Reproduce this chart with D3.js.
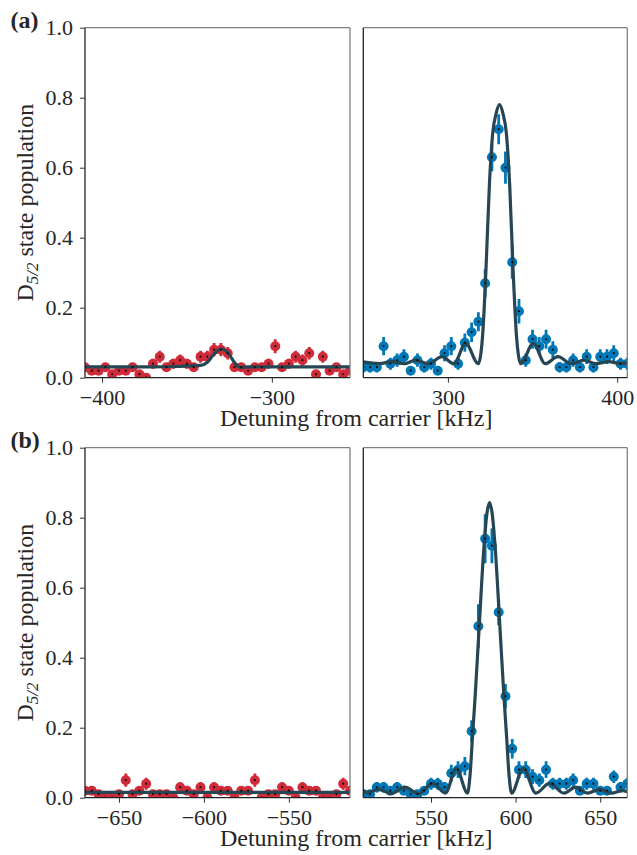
<!DOCTYPE html>
<html>
<head>
<meta charset="utf-8">
<script src="https://cdn.jsdelivr.net/npm/d3@7"></script>
<style>
  body { margin: 0; background: #fff; }
  text { font-family: "Liberation Serif", "Times New Roman", serif; fill: #262626; }
</style>
</head>
<body>
<script>
// ---- data ----
var aLeftX = [-410,-406,-402,-398,-394,-390,-386,-382,-378,-374,-370,-366,-362,-358,-354,-350,-346,-342,-338,-334,
              -330,-326,-322,-318,-314,-310,-306,-302,-298,-294,-290,-286,-282,-278,-274,-270,-266,-262,-258,-254];
var aLeftY = [0.03,0.02,0.02,0.03,0.01,0.02,0.02,0.03,0.01,0.00,0.04,0.06,0.03,0.04,0.05,0.04,0.03,0.06,0.06,0.08,
              0.08,0.07,0.03,0.03,0.02,0.03,0.03,0.04,0.09,0.03,0.04,0.06,0.05,0.07,0.01,0.06,0.02,0.03,0.01,0.02];
var aLeftErr = [0.012,0.010,0.010,0.012,0.007,0.010,0.010,0.012,0.007,0,0.014,0.017,0.012,0.014,0.016,0.014,0.012,0.017,0.017,0.019,
                0.019,0.018,0.012,0.012,0.010,0.012,0.012,0.014,0.020,0.012,0.014,0.017,0.016,0.018,0.007,0.017,0.010,0.012,0.007,0.010];

var aRightX = [250,254,258,262,266,270,274,278,282,286,290,294,298,302,306,310,314,318,322,326,
               330,334,338,342,346,350,354,358,362,366,370,374,378,382,386,390,394,398,402,406];
var aRightY = [0.03,0.03,0.03,0.09,0.04,0.05,0.06,0.02,0.05,0.03,0.04,0.02,0.07,0.09,0.04,0.10,0.13,0.16,0.27,0.63,
               0.71,0.60,0.33,0.19,0.05,0.11,0.09,0.11,0.08,0.03,0.03,0.05,0.03,0.06,0.03,0.06,0.06,0.07,0.04,0.04];
var aRightErr = [0.015,0.015,0.015,0.026,0.017,0.019,0.021,0.012,0.019,0.015,0.017,0.012,0.023,0.026,0.017,0.026,0.028,0.027,0.040,0.040,
                 0.043,0.046,0.047,0.035,0.019,0.027,0.026,0.027,0.024,0.015,0.015,0.019,0.015,0.021,0.015,0.021,0.021,0.023,0.017,0.017];

var bLeftX = [-670,-666,-662,-658,-654,-650,-646,-642,-638,-634,-630,-626,-622,-618,-614,-610,-606,-602,-598,-594,
              -590,-586,-582,-578,-574,-570,-566,-562,-558,-554,-550,-546,-542,-538,-534,-530,-526,-522,-518,-514];
var bLeftY = [0.02,0.02,0.01,0.00,0.00,0.01,0.05,0.01,0.02,0.04,0.01,0.01,0.01,0.00,0.03,0.02,0.01,0.03,0.00,0.03,
              0.02,0.02,0.00,0.02,0.02,0.05,0.00,0.01,0.01,0.03,0.02,0.00,0.03,0.02,0.02,0.00,0.00,0.01,0.04,0.02];
var bLeftErr = [0.012,0.012,0.008,0,0,0.008,0.019,0.008,0.012,0.017,0.008,0.008,0.008,0,0.014,0.012,0.008,0.014,0,0.014,
                0.012,0.012,0,0.012,0.012,0.019,0,0.008,0.008,0.014,0.012,0,0.014,0.012,0.012,0,0,0.008,0.017,0.012];

var bRightX = [510,514,518,522,526,530,534,538,542,546,550,554,558,562,566,570,574,578,582,586,
               590,594,598,602,606,610,614,618,622,626,630,634,638,642,646,650,654,658,662,666];
var bRightY = [0.01,0.01,0.03,0.03,0.02,0.03,0.02,0.01,0.01,0.02,0.04,0.04,0.03,0.07,0.08,0.09,0.19,0.49,0.74,0.72,
               0.53,0.29,0.14,0.08,0.08,0.06,0.05,0.08,0.04,0.04,0.04,0.05,0.02,0.04,0.04,0.02,0.02,0.06,0.03,0.04];
var bRightErr = [0.010,0.010,0.015,0.015,0.012,0.015,0.012,0.010,0.010,0.012,0.017,0.017,0.015,0.024,0.024,0.026,0.031,0.063,0.070,0.050,
                 0.037,0.035,0.028,0.024,0.024,0.021,0.019,0.024,0.017,0.017,0.017,0.019,0.012,0.017,0.017,0.012,0.012,0.018,0.015,0.017];

// fitted lineshapes, sampled at their turning points off the picture
var aLeftFitX = [-410,-370,-356,-348,-342,-338,-335,-332,-329.5,-327,-324,-321,-318,-314,-300,-254];
var aLeftFitY = [0.031,0.031,0.032,0.034,0.035,0.044,0.062,0.077,0.082,0.077,0.058,0.037,0.029,0.031,0.031,0.031];

var aRightFitX = [250,259.5,267,274,281,288.5,296.5,303.5,310.5,318,319.5,320.5,322.5,324.5,326.5,328.5,330.5,
                  332.5,334.5,336.5,338.5,340.5,341.5,343,350.5,357.5,365,373,380.5,387.5,395,402,406];
var aRightFitY = [0.045,0.04,0.046,0.04,0.05,0.04,0.06,0.04,0.098,0.04,0.07,0.12,0.31,0.55,0.70,0.755,0.78,
                  0.755,0.70,0.55,0.31,0.12,0.07,0.04,0.098,0.04,0.06,0.04,0.05,0.04,0.046,0.04,0.043];

var bLeftFitX = [-670, -514];
var bLeftFitY = [0.015, 0.015];

var bRightFitX = [510,512.5,519,526.5,534.5,542.5,551,558.5,565,571.6,573,574.6,576.1,578.5,581.3,583,584.6,
                  586.2,587.9,590.7,593.1,594.6,596.2,597.6,604.5,612,620,628.5,635.5,642.5,649.5,656.5,663,666];
var bRightFitY = [0.02,0.015,0.024,0.012,0.03,0.012,0.041,0.013,0.084,0.013,0.06,0.18,0.29,0.49,0.717,0.81,0.843,
                  0.81,0.717,0.49,0.29,0.18,0.06,0.013,0.084,0.013,0.041,0.013,0.03,0.013,0.024,0.013,0.02,0.017];

var yTicks = [0, 0.2, 0.4, 0.6, 0.8, 1.0];
var aLeftTicks = [-400, -300];
var aRightTicks = [300, 400];
var bLeftTicks = [-650, -600, -550];
var bRightTicks = [550, 600, 650];

var red = "#d12a38", blue = "#0077b6", fitColor = "#264653";

var svg = d3.select("body").append("svg")
    .attr("width", 637)
    .attr("height", 855);

var panels = [
    {xs: aLeftX, ys: aLeftY, errs: aLeftErr, fx: aLeftFitX, fy: aLeftFitY, ticks: aLeftTicks, color: red,  x0: 85,    x1: 350,   top: 27.7,  bottom: 377.7, showY: true},
    {xs: aRightX, ys: aRightY, errs: aRightErr, fx: aRightFitX, fy: aRightFitY, ticks: aRightTicks, color: blue, x0: 363.3, x1: 627.3, top: 27.7,  bottom: 377.7, showY: false},
    {xs: bLeftX, ys: bLeftY, errs: bLeftErr, fx: bLeftFitX, fy: bLeftFitY, ticks: bLeftTicks, color: red,  x0: 85,    x1: 350,   top: 447.7, bottom: 797.7, showY: true},
    {xs: bRightX, ys: bRightY, errs: bRightErr, fx: bRightFitX, fy: bRightFitY, ticks: bRightTicks, color: blue, x0: 363.3, x1: 627.3, top: 447.7, bottom: 797.7, showY: false}
];

panels.forEach(function (p, i) {
    var x = d3.scaleLinear().domain(d3.extent(p.xs)).range([p.x0, p.x1]);
    var y = d3.scaleLinear().domain([0, 1]).range([p.bottom, p.top]);

    svg.append("clipPath").attr("id", "clip" + i)
      .append("rect")
        .attr("x", p.x0).attr("y", p.top)
        .attr("width", p.x1 - p.x0).attr("height", p.bottom - p.top);

    var pts = p.xs.map(function (d, k) { return {x: d, y: p.ys[k], e: p.errs[k]}; });
    var plot = svg.append("g").attr("clip-path", "url(#clip" + i + ")");

    // error bars
    plot.selectAll("line.err").data(pts).enter().append("line")
        .attr("class", "err")
        .attr("x1", function (d) { return x(d.x); })
        .attr("x2", function (d) { return x(d.x); })
        .attr("y1", function (d) { return y(d.y - d.e); })
        .attr("y2", function (d) { return y(d.y + d.e); })
        .attr("stroke", p.color)
        .attr("stroke-width", 2.8);

    plot.selectAll("circle.mk").data(pts).enter().append("circle")
        .attr("class", "mk")
        .attr("cx", function (d) { return x(d.x); })
        .attr("cy", function (d) { return y(d.y); })
        .attr("r", 5)
        .attr("fill", p.color);

    // fit
    var fit = p.fx.map(function (d, k) { return [d, p.fy[k]]; });
    plot.append("path")
        .datum(fit)
        .attr("fill", "none")
        .attr("stroke", fitColor)
        .attr("stroke-width", 3.2)
        .attr("d", d3.line()
            .x(function (d) { return x(d[0]); })
            .y(function (d) { return y(d[1]); })
            .curve(d3.curveMonotoneX));

    // small black centre dots
    plot.selectAll("circle.dot").data(pts).enter().append("circle")
        .attr("class", "dot")
        .attr("cx", function (d) { return x(d.x); })
        .attr("cy", function (d) { return y(d.y); })
        .attr("r", 1.1)
        .attr("fill", "#111");

    // x axis
    var xa = svg.append("g")
        .attr("transform", "translate(0," + p.bottom + ")")
        .call(d3.axisBottom(x).tickValues(p.ticks).tickSize(5).tickPadding(6.2).tickFormat(d3.format("d")));
    xa.select(".domain").remove();
    xa.selectAll("line").attr("stroke", "#333");
    xa.selectAll("text").attr("font-family", null).style("font-size", "22px").attr("fill", "#333");

    if (p.showY) {
        var ya = svg.append("g")
            .attr("transform", "translate(" + p.x0 + ",0)")
            .call(d3.axisLeft(y).tickValues(yTicks).tickSize(5).tickPadding(7).tickFormat(d3.format(".1f")));
        ya.select(".domain").remove();
        ya.selectAll("line").attr("stroke", "#333");
        ya.selectAll("text").attr("font-family", null).style("font-size", "22px").attr("fill", "#333");
    }

    // spines
    svg.append("line").attr("x1", p.x0).attr("x2", p.x1).attr("y1", p.top).attr("y2", p.top)
        .attr("stroke", "#808080").attr("stroke-width", 1.3);
    svg.append("line").attr("x1", p.x1).attr("x2", p.x1).attr("y1", p.top).attr("y2", p.bottom)
        .attr("stroke", "#808080").attr("stroke-width", 1.3);
    svg.append("line").attr("x1", p.x0).attr("x2", p.x0).attr("y1", p.top).attr("y2", p.bottom)
        .attr("stroke", "#222").attr("stroke-width", 1.3);
    svg.append("line").attr("x1", p.x0).attr("x2", p.x1).attr("y1", p.bottom).attr("y2", p.bottom)
        .attr("stroke", "#222").attr("stroke-width", 1.3);
});

// labels for both rows
[{tag: "(a)", top: 27.7, bottom: 377.7}, {tag: "(b)", top: 447.7, bottom: 797.7}].forEach(function (r) {
    svg.append("text")
        .attr("x", 10.5).attr("y", r.top + 0.5)
        .style("font-size", "24px").style("font-weight", "bold")
        .text(r.tag);

    var yl = svg.append("text")
        .attr("transform", "translate(33," + ((r.top + r.bottom) / 2) + ") rotate(-90)")
        .attr("text-anchor", "middle")
        .style("font-size", "24px");
    yl.append("tspan").text("D");
    yl.append("tspan").attr("dy", 5).style("font-size", "17px").style("font-style", "italic").text("5/2");
    yl.append("tspan").attr("dy", -5).text(" state population");

    svg.append("text")
        .attr("x", 356.2).attr("y", r.bottom + 47.8)
        .attr("text-anchor", "middle")
        .style("font-size", "24px")
        .text("Detuning from carrier [kHz]");
});
</script>
</body>
</html>
